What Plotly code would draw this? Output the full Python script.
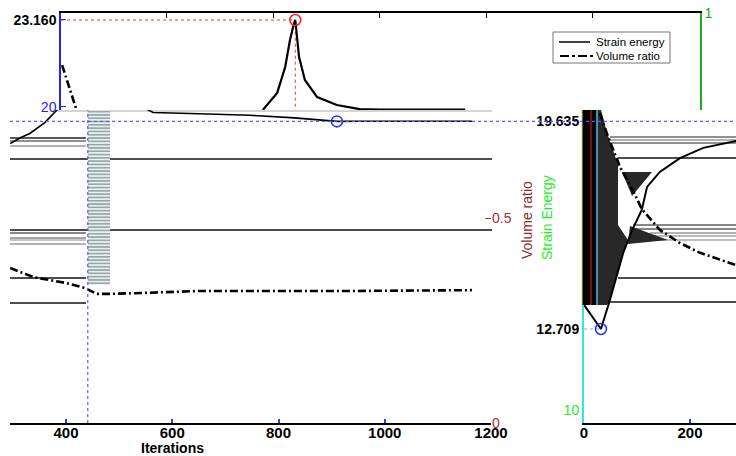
import plotly.graph_objects as go

W, H = 736, 456
FONT = "Arial, 'Liberation Sans', sans-serif"

# ---------------- data ----------------
# main panel (Iterations axis)
main_iter_se = [295, 315, 332, 345, 360, 383, 420, 480, 530, 555, 564, 650, 746, 830, 910, 960, 1050, 1164]
main_se = [18.93, 19.12, 19.25, 19.40, 19.60, 20.0, 20.5, 20.6, 20.3, 20.0, 19.92, 19.88, 19.83, 19.75, 19.635, 19.64, 19.64, 19.64]
main_iter_vr = [295, 338, 402, 436, 458, 483, 539, 652, 741, 935, 1164]
main_vr = [0.378, 0.356, 0.341, 0.329, 0.315, 0.315, 0.317, 0.322, 0.322, 0.322, 0.324]
main_min_iter, main_min_se = 910, 19.635
marker_iter = 441

# hatched block (iterations / volume ratio)
hatch_iter, hatch_width, hatch_base, hatch_top = 462, 42, 0.337, 0.763

# top zoom panel
top_iter_se = [780, 807, 822, 831, 838, 841, 848, 859, 882, 919, 962, 1000, 1160]
top_se = [19.89, 20.51, 21.45, 22.43, 23.0, 23.16, 21.82, 20.98, 20.36, 20.07, 19.92, 19.9, 19.9]
top_iter_vr = [403, 416, 429]
top_vr = [0.839, 0.774, 0.706]
peak_iter, peak_se = 841, 23.160
top_start = 401

# right panel
right_iter_se = [0, 16, 32, 49, 74, 91, 109, 119, 143, 181, 225, 287]
right_se = [13.51, 13.10, 12.709, 13.68, 15.24, 16.01, 16.67, 17.44, 17.94, 18.40, 18.74, 18.97]
right_iter_vr = [30, 43, 68, 92, 109, 143, 181, 219, 287]
right_vr = [0.756, 0.707, 0.624, 0.568, 0.522, 0.471, 0.439, 0.415, 0.385]
right_min_iter, right_min_se = 32, 12.709

# dark shadow regions in right panel (iterations, strain energy)
shadow_x = [24.5, 32.1, 43.4, 64.2, 64.2, 83.0, 73.6, 49.1, 43.4, 24.5]
shadow_y = [20.0, 20.0, 19.24, 18.17, 16.17, 15.67, 15.24, 13.68, 13.51, 13.51]
patch_a_x = [71.7, 128.3, 90.6]
patch_a_y = [17.94, 17.94, 17.14]
patch_b_x = [86.8, 158.5, 83.0]
patch_b_y = [16.14, 15.67, 15.54]

main_ticks = [400, 600, 800, 1000, 1200]
right_ticks = [0, 200]
top_ticks = [600, 800, 1000, 1200, 1400]


def px(x):
    return x / W


def py(y):
    return 1 - y / H


xdom_main = [px(10), px(491)]
xdom_right = [px(584), 1.0]
xdom_top = [px(61), px(700)]
ydom_main = [py(423), py(110)]
ydom_top = [py(110), py(13)]

DASHDOT = "8px,3px,2px,3px"

fig = go.Figure()

# hatched block
fig.add_trace(go.Bar(
    x=[hatch_iter], y=[hatch_top - hatch_base], base=[hatch_base], width=[hatch_width],
    xaxis="x", yaxis="y2",
    marker=dict(color="white", line=dict(width=0),
                pattern=dict(shape="-", fgcolor="#2e5252", bgcolor="white", size=3.3, solidity=0.6)),
    showlegend=False, hoverinfo="skip"))

# main strain energy
fig.add_trace(go.Scatter(x=main_iter_se, y=main_se, xaxis="x", yaxis="y", mode="lines",
                         line=dict(color="black", width=1.6), showlegend=False))
# main volume ratio
fig.add_trace(go.Scatter(x=main_iter_vr, y=main_vr, xaxis="x", yaxis="y2", mode="lines",
                         line=dict(color="black", width=2.6, dash=DASHDOT), showlegend=False))
fig.add_trace(go.Scatter(x=[main_min_iter], y=[main_min_se], xaxis="x", yaxis="y", mode="markers",
                         marker=dict(symbol="circle-open", size=11, color="#2233ee", line=dict(width=1.5)),
                         showlegend=False))

# top panel
fig.add_trace(go.Scatter(x=[top_start, peak_iter, peak_iter], y=[peak_se, peak_se, 19.89],
                         xaxis="x5", yaxis="y5", mode="lines",
                         line=dict(color="#ff3030", width=1, dash="dot"), showlegend=False))
fig.add_trace(go.Scatter(x=top_iter_se, y=top_se, xaxis="x5", yaxis="y5", mode="lines",
                         line=dict(color="black", width=2.2), showlegend=False))
fig.add_trace(go.Scatter(x=top_iter_vr, y=top_vr, xaxis="x5", yaxis="y6", mode="lines",
                         line=dict(color="black", width=2.6, dash=DASHDOT), showlegend=False))
fig.add_trace(go.Scatter(x=[peak_iter], y=[peak_se], xaxis="x5", yaxis="y5", mode="markers",
                         marker=dict(symbol="circle-open", size=11, color="#ee2222", line=dict(width=1.5)),
                         showlegend=False))

# right panel
for sx, sy in [(shadow_x, shadow_y), (patch_a_x, patch_a_y), (patch_b_x, patch_b_y)]:
    fig.add_trace(go.Scatter(x=sx, y=sy, xaxis="x3", yaxis="y3", mode="lines", fill="toself",
                             fillcolor="#282828", line=dict(width=0, color="#282828"), showlegend=False,
                             hoverinfo="skip"))
fig.add_trace(go.Scatter(x=[0, right_min_iter], y=[right_min_se, right_min_se], xaxis="x3", yaxis="y3",
                         mode="lines", line=dict(color="#8899ff", width=1, dash="dot"), showlegend=False))
fig.add_trace(go.Scatter(x=right_iter_se, y=right_se, xaxis="x3", yaxis="y3", mode="lines",
                         line=dict(color="black", width=2), showlegend=False))
fig.add_trace(go.Scatter(x=right_iter_vr, y=right_vr, xaxis="x3", yaxis="y4", mode="lines",
                         line=dict(color="black", width=2.6, dash=DASHDOT), showlegend=False))
fig.add_trace(go.Scatter(x=[right_min_iter], y=[right_min_se], xaxis="x3", yaxis="y3", mode="markers",
                         marker=dict(symbol="circle-open", size=11, color="#2233ee", line=dict(width=1.5)),
                         showlegend=False))

# ---------------- shapes ----------------
shapes = []
glitch_lines = [
    (138, 10, 86, "#222222", 1.5), (141, 10, 86, "#222222", 1), (146, 10, 86, "#999999", 1.5),
    (159, 10, 492, "#111111", 1.5), (230, 10, 492, "#111111", 1.5), (233, 10, 86, "#111111", 1),
    (238, 10, 86, "#888888", 1.5), (240, 10, 86, "#888888", 1), (244, 10, 86, "#999999", 1.5),
    (278, 10, 86, "#111111", 1.5), (303, 10, 86, "#111111", 1.5),
    (137, 610, 736, "#222222", 1), (140, 610, 736, "#666666", 1), (143, 610, 736, "#222222", 1),
    (158, 618, 736, "#111111", 1.5), (225, 633, 736, "#111111", 1), (229, 633, 736, "#111111", 1),
    (233, 650, 736, "#999999", 1.5), (236, 650, 736, "#777777", 1), (240, 650, 736, "#aaaaaa", 1.5),
    (278, 618, 736, "#111111", 1.5), (302, 607, 736, "#111111", 1.5),
    (111, 55, 492, "#aaaaaa", 1),
]
for yy, x0, x1, col, wd in glitch_lines:
    shapes.append(dict(type="line", xref="paper", yref="paper", x0=px(x0), x1=px(x1), y0=py(yy), y1=py(yy),
                       line=dict(color=col, width=wd), layer="below"))

# dark block in right panel
shapes.append(dict(type="rect", xref="paper", yref="paper", x0=px(582), x1=px(597), y0=py(305), y1=py(110),
                   fillcolor="black", line=dict(width=0), layer="above"))
shapes.append(dict(type="line", xref="paper", yref="paper", x0=px(591), x1=px(591), y0=py(305), y1=py(110),
                   line=dict(color="#dd2222", width=1), layer="above"))
shapes.append(dict(type="line", xref="paper", yref="paper", x0=px(597), x1=px(597), y0=py(305), y1=py(110),
                   line=dict(color="#44bbee", width=1.5), layer="above"))
shapes.append(dict(type="line", xref="paper", yref="paper", x0=px(582), x1=px(582), y0=py(305), y1=py(110),
                   line=dict(color="#dddd33", width=1), layer="above"))

# reference guides
shapes.append(dict(type="line", xref="paper", yref="y", x0=px(10), x1=1.0, y0=main_min_se, y1=main_min_se,
                   line=dict(color="#5a5aff", width=1.2, dash="dot")))
shapes.append(dict(type="line", xref="x", yref="paper", x0=marker_iter, x1=marker_iter,
                   y0=ydom_main[0], y1=ydom_main[1], line=dict(color="#5a5aff", width=1.2, dash="dot")))

# legend box
shapes.append(dict(type="rect", xref="paper", yref="paper", x0=px(553), x1=px(670), y0=py(63), y1=py(32),
                   fillcolor="white", line=dict(color="#777777", width=1)))
shapes.append(dict(type="line", xref="paper", yref="paper", x0=px(559), x1=px(590), y0=py(42), y1=py(42),
                   line=dict(color="black", width=1.5)))
shapes.append(dict(type="line", xref="paper", yref="paper", x0=px(560), x1=px(593), y0=py(56), y1=py(56),
                   line=dict(color="black", width=2, dash="dashdot")))

# ---------------- annotations ----------------
def note(text, x, y, size, color, angle=0, xanchor="center", bold=False):
    return dict(text=f"<b>{text}</b>" if bold else text, x=px(x), y=py(y), xref="paper", yref="paper",
                showarrow=False, textangle=angle, xanchor=xanchor, yanchor="middle",
                font=dict(size=size, color=color, family=FONT))


ann = [
    note("Iterations", 172, 448, 14, "black", bold=True),
    note("Volume ratio", 527, 220, 14, "#8b2a2a", angle=-90),
    note("Strain Energy", 547, 218, 14, "#22ee22", angle=-90),
    note("Strain energy", 594, 42, 11.5, "black", xanchor="left"),
    note("Volume ratio", 594, 56, 11.5, "black", xanchor="left"),
]

bold_tick = dict(size=15, color="black", family=FONT, weight="bold")

fig.update_layout(
    width=W, height=H, autosize=False, margin=dict(l=0, r=0, t=0, b=0, pad=0),
    paper_bgcolor="white", plot_bgcolor="white",
    font=dict(family=FONT),
    showlegend=False, barmode="overlay",
    shapes=shapes, annotations=ann,
    xaxis=dict(domain=xdom_main, range=[294.6, 1200], anchor="y", showline=True, linecolor="black",
               linewidth=1.5, ticks="inside", ticklen=4, tickcolor="#2a3fd0", tickwidth=1.5,
               tickvals=main_ticks, tickfont=bold_tick, ticklabelstandoff=-5,
               showgrid=False, zeroline=False, automargin=False),
    yaxis=dict(domain=ydom_main, range=[10, 20], anchor="x", showline=False, showticklabels=False,
               ticks="", showgrid=False, zeroline=False, automargin=False),
    yaxis2=dict(overlaying="y", side="right", anchor="x", range=[0, 0.7634], tickvals=[0, 0.5],
                ticktext=["0", "0.5"], ticks="inside", ticklen=6, tickcolor="#a03030", showline=False,
                tickfont=dict(size=14, color="#a03030", family=FONT), showgrid=False, zeroline=False,
                automargin=False),
    xaxis3=dict(domain=xdom_right, range=[0, 286.8], anchor="y3", showline=True, linecolor="black",
                linewidth=1.5, ticks="inside", ticklen=4, tickcolor="#2a3fd0", tickwidth=1.5,
                tickvals=right_ticks, tickfont=bold_tick, ticklabelstandoff=-5,
                showgrid=False, zeroline=False, automargin=False),
    yaxis3=dict(domain=ydom_main, range=[9.58, 20.0], anchor="x3", showline=True, linecolor="#33e8d8",
                linewidth=2, ticks="", tickvals=[10, right_min_se, main_min_se],
                ticktext=["<span style='color:#22ee22'>10</span>", "<b>12.709</b>", "<b>19.635</b>"],
                tickfont=dict(size=14, color="black", family=FONT), showgrid=False, zeroline=False,
                automargin=False),
    yaxis4=dict(overlaying="y3", anchor="x3", range=[0, 0.7634], visible=False),
    xaxis5=dict(domain=xdom_top, range=[top_start, 1601], anchor="y5", side="top", showline=True,
                linecolor="black", linewidth=1.5, ticks="inside", ticklen=5, tickcolor="black",
                tickvals=top_ticks, showticklabels=False, showgrid=False, zeroline=False, automargin=False),
    yaxis5=dict(domain=ydom_top, range=[19.89, 23.414], anchor="x5", showline=True, linecolor="#2222ee",
                linewidth=1.5, ticks="inside", ticklen=5, tickcolor="#2222ee", tickvals=[20, peak_se],
                ticktext=["<span style='color:#2222ee'>20</span>", "<b>23.160</b>"],
                tickfont=dict(size=14, color="black", family=FONT), showgrid=False, zeroline=False,
                automargin=False),
    yaxis6=dict(overlaying="y5", side="right", anchor="x5", range=[0.7, 1.0], showline=True,
                linecolor="#22aa22", linewidth=1.5, ticks="", tickvals=[1.0], ticktext=["1"],
                tickfont=dict(size=14, color="#22aa22", family=FONT), showgrid=False, zeroline=False,
                automargin=False),
)

fig.write_html("out.html", config={"responsive": False},
               post_script="document.body.style.margin='0';document.body.style.overflow='hidden';")
